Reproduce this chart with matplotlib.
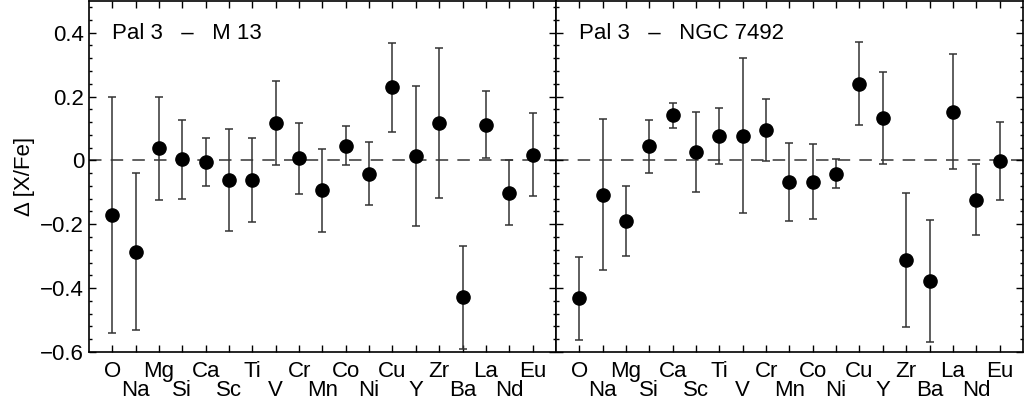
import numpy as np
import matplotlib
matplotlib.use("Agg")
import matplotlib.pyplot as plt

plt.rcParams['font.family'] = ['Liberation Sans', 'DejaVu Sans']

elements = ['O', 'Na', 'Mg', 'Si', 'Ca', 'Sc', 'Ti', 'V', 'Cr', 'Mn',
            'Co', 'Ni', 'Cu', 'Y', 'Zr', 'Ba', 'La', 'Nd', 'Eu']

# Pal 3 - M 13
m13_val = [-0.172, -0.286, 0.038, 0.003, -0.005, -0.062, -0.062, 0.117, 0.007, -0.094,
           0.046, -0.042, 0.229, 0.013, 0.117, -0.429, 0.112, -0.101, 0.018]
m13_err = [0.370, 0.245, 0.161, 0.125, 0.075, 0.160, 0.131, 0.131, 0.111, 0.131,
           0.061, 0.099, 0.140, 0.219, 0.236, 0.161, 0.104, 0.101, 0.130]

# Pal 3 - NGC 7492
n7492_val = [-0.432, -0.107, -0.190, 0.044, 0.142, 0.026, 0.076, 0.078, 0.094, -0.067,
             -0.067, -0.042, 0.240, 0.133, -0.312, -0.378, 0.153, -0.123, -0.002]
n7492_err = [0.130, 0.237, 0.111, 0.083, 0.039, 0.125, 0.087, 0.243, 0.097, 0.122,
             0.118, 0.045, 0.130, 0.143, 0.211, 0.190, 0.181, 0.111, 0.122]

panels = [("Pal 3   \u2013   M 13", m13_val, m13_err),
          ("Pal 3   \u2013   NGC 7492", n7492_val, n7492_err)]

x = np.arange(1, len(elements) + 1)
# upper row of labels on major ticks, lower row on minor ticks
x_up, lab_up = x[0::2], elements[0::2]
x_lo, lab_lo = x[1::2], elements[1::2]

fs = 16
fig = plt.figure(figsize=(10.26, 3.99), dpi=100)
left, bottom, height = 0.0867, 0.118, 0.88
width = (0.997 - left) / 2
axes = [fig.add_axes([left, bottom, width, height]),
        fig.add_axes([left + width, bottom, width, height])]

for k, (ax, (title, val, err)) in enumerate(zip(axes, panels)):
    ax.axhline(0, color='#444444', lw=1.2, ls=(0, (7.5, 5.5)), zorder=1)
    ax.errorbar(x, val, yerr=err, fmt='o', color='black', ms=9.5,
                ecolor='#333333', elinewidth=1.1, capsize=3, capthick=1.1, zorder=3)
    ax.set_xlim(0, 20)
    ax.set_ylim(-0.6, 0.5)
    ax.set_xticks(x_up)
    ax.set_xticklabels(lab_up, fontsize=fs)
    ax.set_xticks(x_lo, minor=True)
    ax.set_xticklabels(lab_lo, minor=True, fontsize=fs)
    ax.tick_params(axis='both', which='both', direction='in', top=True, right=True,
                   width=1.0, labelsize=fs)
    ax.tick_params(axis='x', which='major', length=5, pad=6.5)
    ax.tick_params(axis='x', which='minor', length=5, pad=20)
    ax.set_yticks([-0.6, -0.4, -0.2, 0, 0.2, 0.4])
    ax.set_yticks(np.arange(-0.6, 0.501, 0.04), minor=True)
    ax.tick_params(axis='y', which='major', length=5)
    ax.tick_params(axis='y', which='minor', length=2.5)
    for sp in ax.spines.values():
        sp.set_linewidth(1.2)
    ax.text(0.05, 0.906, title, transform=ax.transAxes, fontsize=fs, va='center', ha='left')
    if k == 0:
        ax.set_yticklabels(['\u22120.6', '\u22120.4', '\u22120.2', '0', '0.2', '0.4'])
        ax.set_ylabel('\u0394 [X/Fe]', fontsize=fs, labelpad=4)
    else:
        ax.set_yticklabels([])

fig.savefig('out.png', dpi=100)
